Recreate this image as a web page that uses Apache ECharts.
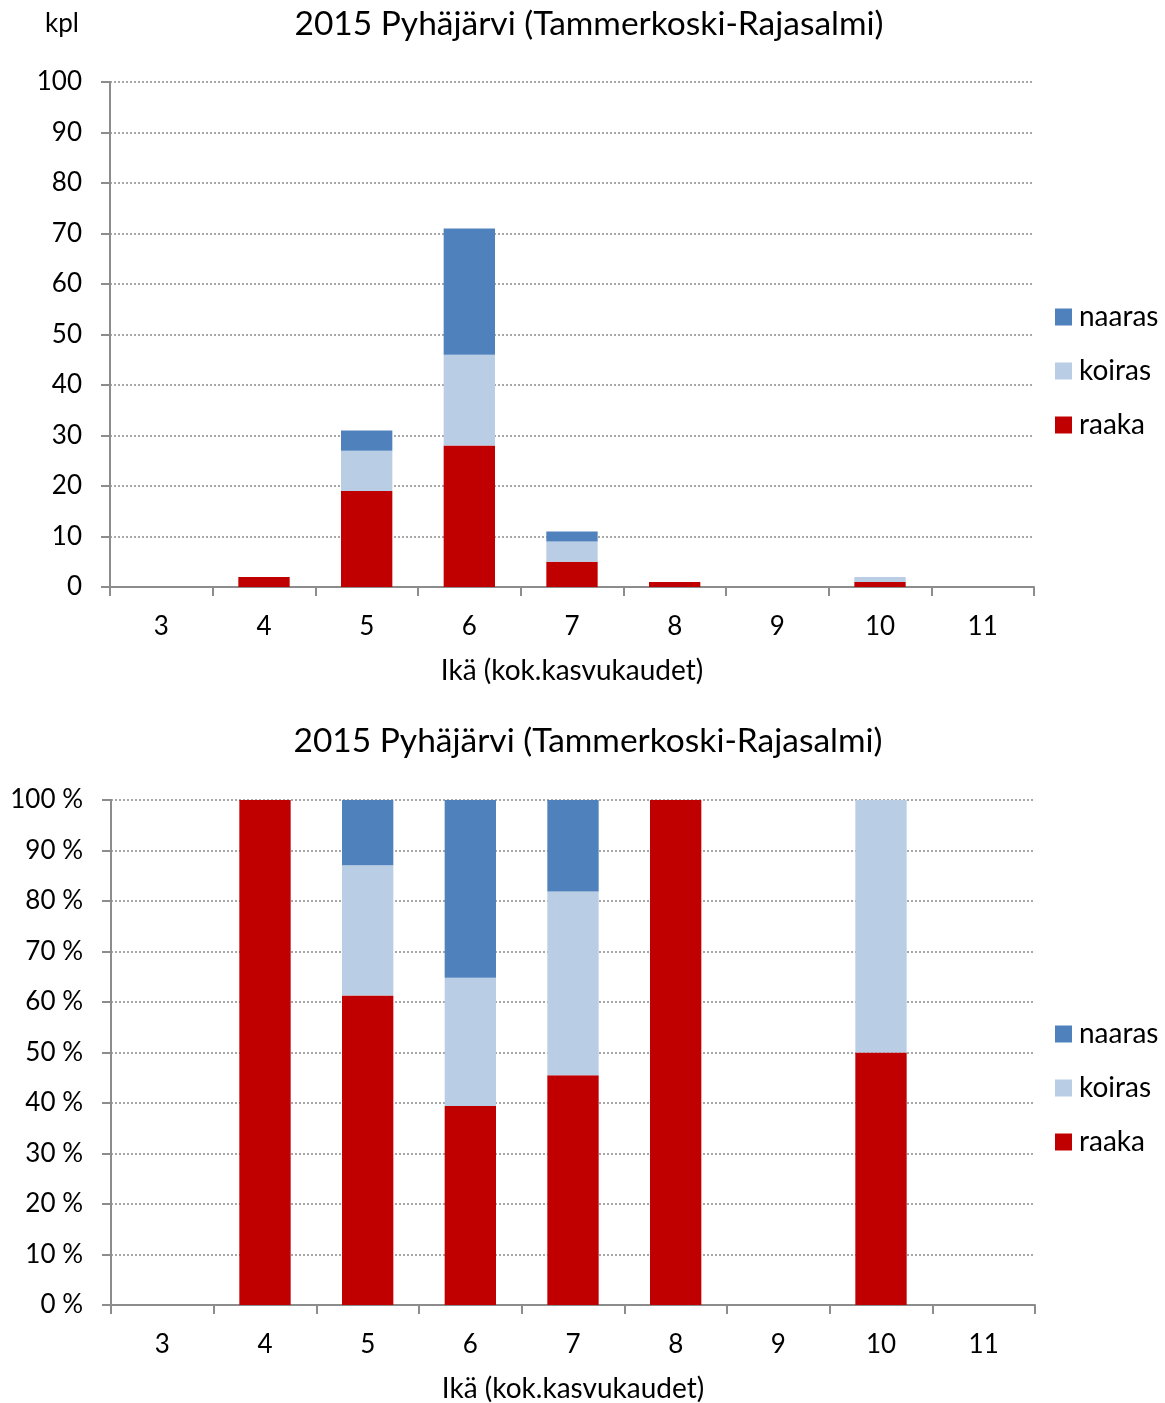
<!DOCTYPE html>
<html><head><meta charset="utf-8">
<script src="https://cdn.jsdelivr.net/npm/echarts@6/dist/echarts.min.js"></script>
<style>html,body{margin:0;padding:0;background:#fff}#c{width:1165px;height:1403px}</style>
</head><body><div id="c"></div>
<script>
const categories = ['3','4','5','6','7','8','9','10','11'];
const raaka  = [0, 2, 19, 28, 5, 1, 0, 1, 0];
const koiras = [0, 0, 8, 18, 4, 0, 0, 1, 0];
const naaras = [0, 0, 4, 25, 2, 0, 0, 0, 0];
const raakaPct  = [0, 100, 61.3, 39.4, 45.5, 100, 0, 50, 0];
const koirasPct = [0, 0, 25.8, 25.4, 36.4, 0, 0, 50, 0];
const naarasPct = [0, 0, 12.9, 35.2, 18.1, 0, 0, 0, 0];
const titleText = '2015 Pyhäjärvi (Tammerkoski-Rajasalmi)';
const xName = 'Ikä (kok.kasvukaudet)';
const yUnit = 'kpl';

const FONT = 'Lato';
const colors = {naaras:'#4F81BD', koiras:'#B9CDE5', raaka:'#C00000'};
const axisGray = '#8C8C8C';

function xAxis(gi){
  return {type:'category', gridIndex:gi, data:categories,
    axisLine:{lineStyle:{color:axisGray,width:2}},
    axisTick:{show:true,length:9,lineStyle:{color:axisGray,width:2}},
    axisLabel:{color:'#000',fontSize:26,fontFamily:FONT,margin:27},
    name:xName, nameLocation:'middle', nameGap:70,
    nameTextStyle:{color:'#000',fontSize:28,fontFamily:FONT}};
}
function yAxis(gi, pct){
  return {type:'value', gridIndex:gi, min:0, max:100, interval:10,
    axisLine:{show:true,lineStyle:{color:axisGray,width:2}},
    axisTick:{show:true,length:9,lineStyle:{color:axisGray,width:2}},
    splitLine:{show:true,lineStyle:{color:'#8a8a8a',type:[2,2],width:1.5}},
    axisLabel:{color:'#000',fontSize:26,fontFamily:FONT,margin:28,
      formatter: pct ? (v)=>v+' %' : (v)=>String(v)}};
}
function bar(name, data, gi, stack){
  return {name, type:'bar', stack, xAxisIndex:gi, yAxisIndex:gi, data,
    barWidth:'50%', itemStyle:{color:colors[name]}, animation:false};
}
function legend(top){
  return {orient:'vertical', left:1055, top, itemWidth:17, itemHeight:17, itemGap:26,
    padding:0, data:['naaras','koiras','raaka'],
    textStyle:{color:'#000',fontSize:28,lineHeight:28,fontFamily:FONT,padding:[0,0,0,2]},
    icon:'rect', selectedMode:false};
}

const chart = echarts.init(document.getElementById('c'));
chart.setOption({
  animation:false,
  grid:[
    {left:110, top:82, width:924, height:505, containLabel:false, outerBoundsMode:'none'},
    {left:111, top:800, width:924, height:505, containLabel:false, outerBoundsMode:'none'}
  ],
  xAxis:[xAxis(0), xAxis(1)],
  yAxis:[yAxis(0,false), yAxis(1,true)],
  legend:[legend(303), legend(1020)],
  graphic:[
    {type:'text', x:62, y:24, style:{text:yUnit, fontSize:26, fontFamily:FONT, fill:'#000', align:'center', verticalAlign:'middle'}},
    {type:'text', x:589, y:24, style:{text:titleText, fontSize:33.5, fontFamily:FONT, fill:'#000', align:'center', verticalAlign:'middle'}},
    {type:'text', x:588, y:741, style:{text:titleText, fontSize:33.5, fontFamily:FONT, fill:'#000', align:'center', verticalAlign:'middle'}}
  ],
  series:[
    bar('raaka', raaka, 0, 'a'), bar('koiras', koiras, 0, 'a'), bar('naaras', naaras, 0, 'a'),
    bar('raaka', raakaPct, 1, 'b'), bar('koiras', koirasPct, 1, 'b'), bar('naaras', naarasPct, 1, 'b')
  ]
});
</script></body></html>
